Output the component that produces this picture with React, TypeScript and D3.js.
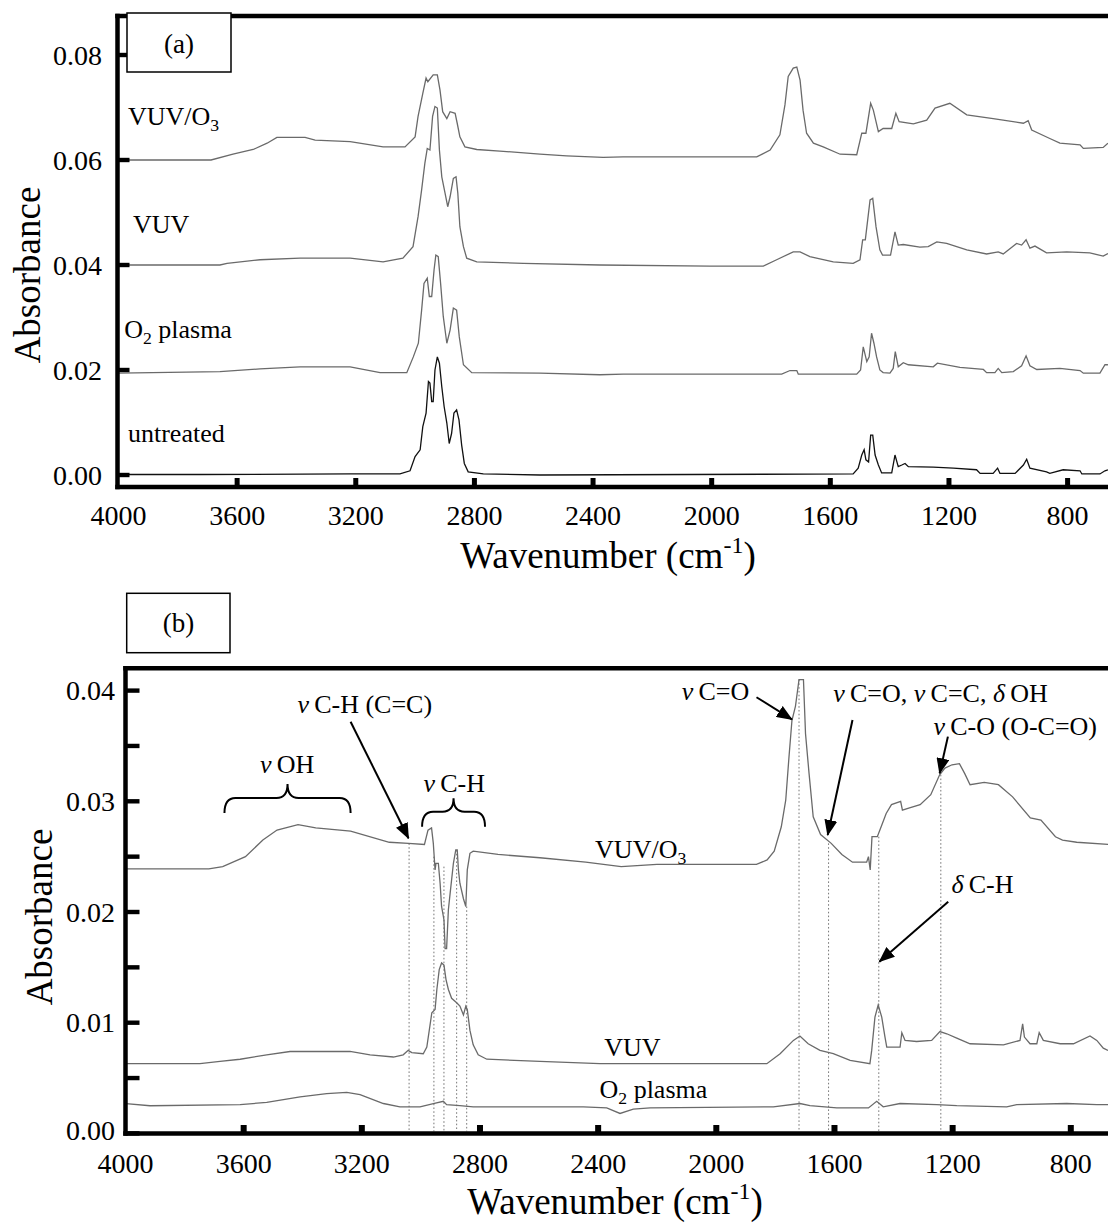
import React from 'react';
import * as d3 from 'd3';

const W = 1108;
const H = 1225;
const FONT = "'Liberation Serif', 'Times New Roman', Times, serif";

// ---- tick values ----
const xTicks = [4000, 3600, 3200, 2800, 2400, 2000, 1600, 1200, 800];
const yTicksA = [0, 0.02, 0.04, 0.06, 0.08];
const yTicksB = [0, 0.01, 0.02, 0.03, 0.04];
const yMinorB = [0.005, 0.015, 0.025, 0.035];

// ---- panel (a) spectra: [wavenumber, absorbance] ----
const aVuvO3 = [[4000,0.0600],[3688,0.0600],[3614,0.0611],[3546,0.0620],[3499,0.0632],[3466,0.0643],[3371,0.0643],[3337,0.0638],[3219,0.0635],[3108,0.0625],[3034,0.0625],[3000,0.0644],[2990,0.0683],[2974,0.0727],[2963,0.0756],[2957,0.0749],[2939,0.0762],[2925,0.0762],[2916,0.0733],[2907,0.0692],[2893,0.0679],[2882,0.0692],[2865,0.0689],[2858,0.0670],[2849,0.0644],[2832,0.0625],[2792,0.0620],[2714,0.0617],[2579,0.0611],[2489,0.0608],[2366,0.0605],[2299,0.0606],[2006,0.0606],[1848,0.0606],[1803,0.0619],[1770,0.0648],[1753,0.0705],[1742,0.0759],[1725,0.0775],[1713,0.0777],[1702,0.0752],[1692,0.0695],[1680,0.0651],[1657,0.0632],[1624,0.0625],[1567,0.0611],[1511,0.0610],[1494,0.0651],[1480,0.0651],[1464,0.0708],[1455,0.0695],[1438,0.0654],[1422,0.0660],[1393,0.0660],[1379,0.0689],[1368,0.0673],[1320,0.0669],[1275,0.0676],[1247,0.0699],[1197,0.0708],[1140,0.0686],[1051,0.0679],[949,0.0670],[933,0.0675],[921,0.0657],[860,0.0641],[826,0.0632],[758,0.0629],[747,0.0622],[680,0.0624],[664,0.0632]];
const aVuv = [[4000,0.0400],[3658,0.0400],[3634,0.0403],[3523,0.0410],[3388,0.0413],[3219,0.0413],[3108,0.0406],[3041,0.0413],[3007,0.0435],[2990,0.0492],[2978,0.0543],[2967,0.0594],[2959,0.0622],[2950,0.0619],[2941,0.0683],[2933,0.0702],[2925,0.0699],[2918,0.0619],[2910,0.0568],[2899,0.0537],[2890,0.0511],[2882,0.0530],[2871,0.0565],[2862,0.0568],[2856,0.0537],[2849,0.0473],[2837,0.0435],[2826,0.0413],[2792,0.0406],[2635,0.0403],[2377,0.0400],[2006,0.0398],[1826,0.0398],[1781,0.0410],[1725,0.0425],[1702,0.0425],[1669,0.0416],[1590,0.0406],[1523,0.0403],[1500,0.0410],[1491,0.0448],[1482,0.0448],[1466,0.0524],[1457,0.0527],[1446,0.0473],[1433,0.0429],[1424,0.0419],[1397,0.0419],[1382,0.0463],[1371,0.0438],[1354,0.0439],[1298,0.0434],[1270,0.0435],[1241,0.0444],[1208,0.0441],[1140,0.0429],[1073,0.0421],[1034,0.0425],[1017,0.0421],[972,0.0441],[955,0.0438],[940,0.0448],[927,0.0432],[910,0.0436],[871,0.0423],[803,0.0425],[725,0.0423],[680,0.0417],[664,0.0422]];
const aO2 = [[4000,0.0194],[3658,0.0197],[3523,0.0202],[3388,0.0206],[3219,0.0206],[3118,0.0195],[3028,0.0195],[3006,0.0225],[2989,0.0251],[2978,0.0314],[2970,0.0365],[2959,0.0375],[2952,0.0340],[2944,0.0340],[2936,0.0391],[2930,0.0419],[2922,0.0416],[2914,0.0365],[2905,0.0302],[2893,0.0251],[2882,0.0276],[2871,0.0318],[2860,0.0314],[2851,0.0263],[2837,0.0210],[2809,0.0195],[2579,0.0194],[2377,0.0191],[2298,0.0192],[1764,0.0192],[1736,0.0199],[1713,0.0199],[1708,0.0192],[1511,0.0192],[1498,0.0200],[1489,0.0244],[1477,0.0216],[1469,0.0225],[1461,0.0270],[1453,0.0251],[1444,0.0225],[1433,0.0200],[1422,0.0195],[1399,0.0194],[1388,0.0203],[1381,0.0235],[1371,0.0206],[1354,0.0214],[1337,0.0210],[1253,0.0206],[1239,0.0213],[1163,0.0205],[1084,0.0201],[1073,0.0195],[1045,0.0195],[1034,0.0203],[1022,0.0195],[983,0.0197],[955,0.0208],[940,0.0227],[927,0.0208],[904,0.0201],[826,0.0203],[758,0.0199],[747,0.0194],[691,0.0194],[674,0.0210],[664,0.0210]];
const aUntreated = [[4000,0.0001],[3725,0.0001],[3219,0.0002],[3051,0.0002],[3017,0.0008],[3000,0.0035],[2983,0.0048],[2974,0.0092],[2963,0.0118],[2955,0.0178],[2950,0.0175],[2944,0.0140],[2939,0.0140],[2933,0.0200],[2925,0.0225],[2918,0.0213],[2910,0.0168],[2902,0.0130],[2893,0.0099],[2885,0.0060],[2877,0.0079],[2869,0.0118],[2860,0.0124],[2852,0.0105],[2843,0.0057],[2834,0.0022],[2821,0.0006],[2770,0.0002],[2579,0.0000],[1523,0.0002],[1506,0.0013],[1494,0.0038],[1486,0.0048],[1480,0.0029],[1471,0.0025],[1464,0.0076],[1457,0.0076],[1449,0.0038],[1438,0.0019],[1427,0.0004],[1393,0.0004],[1382,0.0038],[1371,0.0016],[1359,0.0019],[1348,0.0022],[1337,0.0016],[1253,0.0015],[1185,0.0013],[1107,0.0010],[1095,0.0003],[1051,0.0003],[1036,0.0013],[1028,0.0003],[977,0.0003],[949,0.0019],[938,0.0030],[927,0.0013],[871,0.0006],[860,0.0003],[815,0.0010],[758,0.0008],[752,0.0002],[691,0.0002],[674,0.0008],[664,0.0010]];

// ---- panel (b) spectra ----
const bVuvO3 = [[4000,0.0239],[3718,0.0239],[3671,0.0241],[3594,0.0250],[3535,0.0265],[3487,0.0274],[3416,0.0279],[3356,0.0276],[3238,0.0273],[3107,0.0263],[3042,0.0262],[2988,0.0261],[2976,0.0274],[2964,0.0276],[2958,0.0262],[2952,0.0238],[2949,0.0244],[2941,0.0244],[2935,0.0226],[2930,0.0205],[2922,0.0193],[2918,0.0167],[2913,0.0167],[2907,0.0202],[2901,0.0217],[2890,0.0244],[2882,0.0256],[2877,0.0256],[2873,0.0238],[2868,0.0226],[2856,0.0212],[2848,0.0205],[2843,0.0238],[2834,0.0253],[2823,0.0255],[2739,0.0252],[2597,0.0249],[2442,0.0245],[2322,0.0241],[2201,0.0243],[1864,0.0243],[1828,0.0247],[1804,0.0255],[1780,0.0277],[1765,0.0301],[1754,0.0340],[1744,0.0373],[1732,0.0386],[1720,0.0410],[1705,0.0410],[1698,0.0361],[1686,0.0325],[1672,0.0286],[1647,0.0270],[1611,0.0262],[1575,0.0252],[1539,0.0245],[1491,0.0245],[1485,0.0250],[1479,0.0238],[1473,0.0268],[1455,0.0268],[1442,0.0277],[1425,0.0289],[1407,0.0297],[1376,0.0300],[1370,0.0292],[1346,0.0294],[1310,0.0297],[1274,0.0306],[1244,0.0324],[1226,0.0330],[1202,0.0333],[1177,0.0334],[1159,0.0325],[1141,0.0315],[1093,0.0317],[1045,0.0315],[997,0.0304],[937,0.0285],[901,0.0283],[852,0.0268],[828,0.0265],[780,0.0263],[674,0.0261]];
const bVuv = [[4000,0.0063],[3748,0.0063],[3680,0.0065],[3612,0.0067],[3522,0.0071],[3443,0.0074],[3240,0.0074],[3172,0.0071],[3093,0.0069],[3060,0.0071],[3043,0.0075],[3031,0.0073],[2992,0.0072],[2980,0.0078],[2963,0.0109],[2952,0.0112],[2946,0.0130],[2938,0.0148],[2930,0.0154],[2922,0.0152],[2915,0.0139],[2907,0.0130],[2896,0.0122],[2879,0.0118],[2868,0.0115],[2856,0.0107],[2848,0.0115],[2843,0.0112],[2834,0.0093],[2823,0.0080],[2806,0.0071],[2777,0.0067],[2597,0.0065],[2394,0.0063],[1829,0.0063],[1784,0.0072],[1739,0.0084],[1717,0.0088],[1689,0.0081],[1649,0.0075],[1604,0.0072],[1547,0.0066],[1480,0.0063],[1474,0.0075],[1463,0.0105],[1452,0.0116],[1440,0.0105],[1429,0.0087],[1423,0.0078],[1378,0.0078],[1372,0.0091],[1361,0.0084],[1322,0.0083],[1271,0.0084],[1243,0.0092],[1220,0.0090],[1186,0.0086],[1141,0.0081],[1028,0.0080],[972,0.0084],[963,0.0099],[957,0.0087],[938,0.0081],[915,0.0081],[907,0.0091],[893,0.0084],[836,0.0081],[791,0.0081],[735,0.0088],[712,0.0084],[690,0.0077],[674,0.0075]];
const bO2 = [[4000,0.0027],[3917,0.0025],[3612,0.0026],[3522,0.0028],[3409,0.0033],[3319,0.0036],[3251,0.0037],[3206,0.0035],[3127,0.0027],[3071,0.0024],[3003,0.0024],[2958,0.0027],[2924,0.0029],[2913,0.0026],[2868,0.0025],[2823,0.0024],[2450,0.0024],[2371,0.0023],[2326,0.0018],[2281,0.0022],[2224,0.0023],[1807,0.0024],[1717,0.0027],[1683,0.0025],[1592,0.0023],[1485,0.0023],[1457,0.0029],[1435,0.0024],[1378,0.0027],[1254,0.0026],[1186,0.0025],[1017,0.0024],[983,0.0026],[814,0.0027],[712,0.0026],[674,0.0026]];

// ---- panel (b) annotations ----
const dropWn = [3040, 2956, 2922, 2879, 2845, 1720, 1620, 1450, 1240];
const dropTop = [0.0262, 0.0250, 0.0241, 0.0256, 0.0205, 0.0410, 0.0262, 0.0268, 0.0324];
// arrows: [wnStart, aStart, wnEnd, aEnd]
const arrowsB = [
  [3238, 0.03719, 3042, 0.02666],
  [1864, 0.0394, 1744, 0.0374],
  [1539, 0.03734, 1623, 0.02696],
  [1216, 0.03584, 1244, 0.03253],
  [1215, 0.02093, 1448, 0.01551],
];
// braces: [wnLeft, wnRight, aTip, aArm, aEnd]
const bracesB = [
  [3665, 3238, 0.03156, 0.03030, 0.02894],
  [2996, 2783, 0.03027, 0.02906, 0.02770],
];
// annotation labels: [text, wn, a]
const labelsB = [
  ['νOH', 3453, 0.03258],
  ['νC-H (C=C)', 3190, 0.03795],
  ['νC-H', 2887, 0.03087],
  ['νC=O', 2003, 0.03915],
  ['νC=O, νC=C, δOH', 1241, 0.0390],
  ['νC-O (O-C=O)', 988, 0.03599],
  ['δC-H', 1099, 0.02169],
];

const GRAY = '#6a6a6a';

function Sub({ main, sub, rest }: { main: string; sub: string; rest?: string }) {
  return (
    <>
      {main}
      <tspan fontSize="0.68em" dy="6">{sub}</tspan>
      {rest ? <tspan dy="-6">{rest}</tspan> : null}
    </>
  );
}

function Greek({ s }: { s: string }) {
  const parts: React.ReactNode[] = [];
  let buf = '';
  let k = 0;
  for (const ch of s) {
    if (ch === 'ν' || ch === 'δ') {
      if (buf) { parts.push(<tspan key={k++}>{buf}</tspan>); buf = ''; }
      parts.push(<tspan key={k++} fontStyle="italic">{ch + '\u2009'}</tspan>);
    } else {
      buf += ch;
    }
  }
  if (buf) parts.push(<tspan key={k++}>{buf}</tspan>);
  return <>{parts}</>;
}

export default function App() {
  const xA = d3.scaleLinear().domain([4000, 800]).range([118.5, 1067.6]);
  const yA = d3.scaleLinear().domain([0, 0.08]).range([475, 55]);
  const xB = d3.scaleLinear().domain([4000, 800]).range([125.5, 1070.8]);
  const yB = d3.scaleLinear().domain([0, 0.04]).range([1133.4, 690.6]);

  const lineA = d3.line<number[]>().x((d) => xA(d[0])).y((d) => yA(d[1]));
  const lineB = d3.line<number[]>().x((d) => xB(d[0])).y((d) => yB(d[1]));
  const fmt = d3.format('.2f');

  const brace = (b: number[]) => {
    const x1 = xB(b[0]);
    const x2 = xB(b[1]);
    const xm = (x1 + x2) / 2;
    const yt = yB(b[2]);
    const ya = yB(b[3]);
    const ye = yB(b[4]);
    const r = 11;
    return `M${x1},${ye} Q${x1},${ya} ${x1 + r},${ya} L${xm - r},${ya} Q${xm},${ya} ${xm},${yt} Q${xm},${ya} ${xm + r},${ya} L${x2 - r},${ya} Q${x2},${ya} ${x2},${ye}`;
  };

  const thick = 4.5;

  return (
    <svg
      width={W}
      height={H}
      viewBox={`0 0 ${W} ${H}`}
      style={{ position: 'absolute', left: 0, top: 0, background: '#fff' }}
      fontFamily={FONT}
    >
      <defs>
        <marker id="ah" viewBox="0 0 16 13" refX="15" refY="6.5" markerWidth="16" markerHeight="13" markerUnits="userSpaceOnUse" orient="auto">
          <path d="M0,0 L16,6.5 L0,13 z" fill="#000" />
        </marker>
        <clipPath id="clipA"><rect x={118} y={18} width={W} height={467} /></clipPath>
        <clipPath id="clipB"><rect x={126} y={670} width={W} height={462} /></clipPath>
      </defs>
      <rect x={0} y={0} width={W} height={H} fill="#fff" />

      {/* ===== Panel (a) ===== */}
      <g clipPath="url(#clipA)" fill="none">
        <path d={lineA(aVuvO3) || ''} stroke={GRAY} strokeWidth={1.3} />
        <path d={lineA(aVuv) || ''} stroke={GRAY} strokeWidth={1.3} />
        <path d={lineA(aO2) || ''} stroke={GRAY} strokeWidth={1.3} />
        <path d={lineA(aUntreated) || ''} stroke="#111" strokeWidth={1.3} />
      </g>
      <line x1={117.5} x2={117.5} y1={13.75} y2={489.25} stroke="#000" strokeWidth={thick} />
      <line x1={115.25} x2={W} y1={16} y2={16} stroke="#000" strokeWidth={thick} />
      <line x1={115.25} x2={W} y1={487} y2={487} stroke="#000" strokeWidth={thick} />
      {xTicks.slice(1).map((t) => (
        <rect key={'xa' + t} x={xA(t) - 2.5} y={478} width={5} height={9} fill="#000" />
      ))}
      {yTicksA.map((t) => (
        <rect key={'ya' + t} x={117.5} y={yA(t) - 2.2} width={12} height={4.4} fill="#000" />
      ))}
      <g fontSize={28} fill="#000">
        {yTicksA.map((t) => (
          <text key={'yla' + t} x={102} y={yA(t) + 9.5} textAnchor="end">{fmt(t)}</text>
        ))}
        {xTicks.map((t) => (
          <text key={'xla' + t} x={xA(t)} y={525} textAnchor="middle">{t}</text>
        ))}
      </g>
      <g fontSize={26} fill="#000">
        <text x={xA(3968)} y={yA(0.06667)}><Sub main="VUV/O" sub="3" /></text>
        <text x={xA(3951)} y={yA(0.0461)}>VUV</text>
        <text x={xA(3981)} y={yA(0.0261)}><Sub main="O" sub="2" rest=" plasma" /></text>
        <text x={xA(3968)} y={yA(0.00634)}>untreated</text>
      </g>
      <text x={0} y={0} fontSize={37} textAnchor="middle" transform={`translate(40,275) rotate(-90)`}>Absorbance</text>
      <text x={608} y={568} fontSize={37} textAnchor="middle">
        Wavenumber (cm<tspan fontSize={24} dy={-15}>-1</tspan><tspan dy={15}>)</tspan>
      </text>
      <rect x={127} y={13} width={104} height={59} fill="#fff" stroke="#000" strokeWidth={1.5} />
      <text x={179} y={53} fontSize={27} textAnchor="middle">(a)</text>

      {/* ===== Panel (b) ===== */}
      <g fill="none" stroke="#777" strokeWidth={1} strokeDasharray="1.6,2.2">
        {dropWn.map((w, i) => (
          <line key={'dr' + w} x1={xB(w)} x2={xB(w)} y1={yB(dropTop[i])} y2={yB(0) - 2} />
        ))}
      </g>
      <g clipPath="url(#clipB)" fill="none">
        <path d={lineB(bVuvO3) || ''} stroke={GRAY} strokeWidth={1.3} />
        <path d={lineB(bVuv) || ''} stroke={GRAY} strokeWidth={1.3} />
        <path d={lineB(bO2) || ''} stroke={GRAY} strokeWidth={1.3} />
      </g>
      <line x1={125.5} x2={125.5} y1={666.05} y2={1135.65} stroke="#000" strokeWidth={thick} />
      <line x1={123.25} x2={W} y1={668.3} y2={668.3} stroke="#000" strokeWidth={thick} />
      <line x1={123.25} x2={W} y1={1133.4} y2={1133.4} stroke="#000" strokeWidth={thick} />
      {xTicks.slice(1).map((t) => (
        <rect key={'xb' + t} x={xB(t) - 3} y={1125} width={6} height={8} fill="#000" />
      ))}
      {yTicksB.concat(yMinorB).map((t) => (
        <rect key={'yb' + t} x={125.5} y={yB(t) - 2.2} width={14} height={4.4} fill="#000" />
      ))}
      <g fontSize={28} fill="#000">
        {yTicksB.map((t) => (
          <text key={'ylb' + t} x={115} y={yB(t) + (t === 0 ? 7 : 9.5)} textAnchor="end">{fmt(t)}</text>
        ))}
        {xTicks.map((t) => (
          <text key={'xlb' + t} x={xB(t)} y={1173} textAnchor="middle">{t}</text>
        ))}
      </g>
      <g fill="none" stroke="#000" strokeWidth={2}>
        {bracesB.map((b, i) => (
          <path key={'br' + i} d={brace(b)} />
        ))}
        {arrowsB.map((a, i) => (
          <line key={'ar' + i} x1={xB(a[0])} y1={yB(a[1])} x2={xB(a[2])} y2={yB(a[3])} markerEnd="url(#ah)" />
        ))}
      </g>
      <g fontSize={26} fill="#000">
        {labelsB.map((l) => (
          <text key={l[0] as string} x={xB(l[1] as number)} y={yB(l[2] as number)} textAnchor="middle"><Greek s={l[0] as string} /></text>
        ))}
        <text x={xB(2256)} y={yB(0.02485)} textAnchor="middle"><Sub main="VUV/O" sub="3" /></text>
        <text x={xB(2284)} y={yB(0.00699)} textAnchor="middle">VUV</text>
        <text x={xB(2213)} y={yB(0.00317)} textAnchor="middle"><Sub main="O" sub="2" rest=" plasma" /></text>
      </g>
      <text x={0} y={0} fontSize={37} textAnchor="middle" transform={`translate(51.5,917) rotate(-90)`}>Absorbance</text>
      <text x={615} y={1214} fontSize={37} textAnchor="middle">
        Wavenumber (cm<tspan fontSize={24} dy={-15}>-1</tspan><tspan dy={15}>)</tspan>
      </text>
      <rect x={126.7} y={593.3} width={103.3} height={59.4} fill="#fff" stroke="#000" strokeWidth={1.5} />
      <text x={178.5} y={632} fontSize={27} textAnchor="middle">(b)</text>
    </svg>
  );
}
